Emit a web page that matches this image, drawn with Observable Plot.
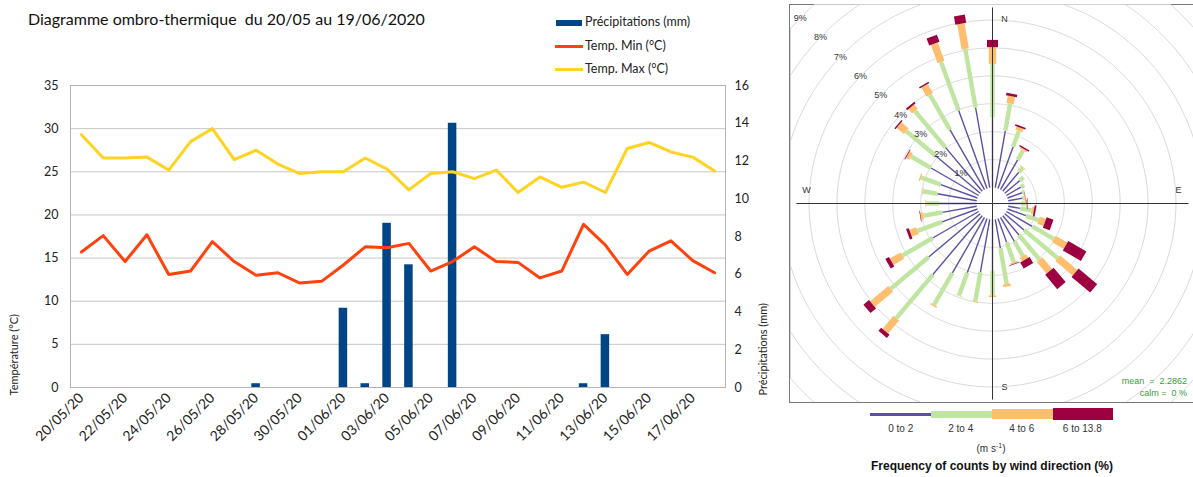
<!DOCTYPE html>
<html><head><meta charset="utf-8">
<script src="https://cdn.jsdelivr.net/npm/d3@7"></script>
<script src="https://cdn.jsdelivr.net/npm/@observablehq/plot@0.6"></script>
<style>
body{margin:0;background:#fff;}
#page{position:relative;width:1193px;height:477px;overflow:hidden;background:#fff;font-family:Lato,"Open Sans",sans-serif;color:#222}
.abs{position:absolute;white-space:nowrap}
.rl{font-family:"Liberation Sans",Arial,sans-serif;color:#333}
</style></head><body><div id="page">
<div class="abs" style="left:28px;top:9px;font-size:16px;color:#111">Diagramme ombro-thermique&nbsp; du 20/05 au 19/06/2020</div>
<div class="abs" style="left:556px;top:20px;width:26px;height:6px;background:#004586"></div>
<div class="abs" style="left:585px;top:14px;font-size:12.5px">Précipitations (mm)</div>
<div class="abs" style="left:555px;top:45px;width:28px;height:3px;background:#ff420e"></div>
<div class="abs" style="left:585px;top:38px;font-size:12.5px">Temp. Min (°C)</div>
<div class="abs" style="left:555px;top:68px;width:28px;height:3px;background:#ffd320"></div>
<div class="abs" style="left:585px;top:61px;font-size:12.5px">Temp. Max (°C)</div>
<div id="left" class="abs" style="left:0;top:0"></div>
<div class="abs" style="left:789px;top:4px;width:410px;height:397px;border:1px solid #777"></div>
<div id="rose" class="abs" style="left:790px;top:4px;width:404px;height:398px;overflow:hidden"></div>
<div class="abs rl" style="right:6px;top:376px;font-size:9px;color:#3a9c3a">mean&nbsp; = &nbsp;2.2862</div>
<div class="abs rl" style="right:6px;top:388px;font-size:9px;color:#3a9c3a">calm = &nbsp;0 %</div>
<div class="abs" style="left:870px;top:413px;width:61px;height:3px;background:#5e4fa2"></div>
<div class="abs" style="left:931px;top:411px;width:61px;height:7px;background:#bfe5a0"></div>
<div class="abs" style="left:992px;top:409px;width:61px;height:10px;background:#fdbf6f"></div>
<div class="abs" style="left:1053px;top:408px;width:60px;height:12px;background:#9e0142"></div>
<div id="leglab"></div>
<div class="abs rl" style="left:941px;top:442px;width:100px;text-align:center;font-size:10px">(m s<sup style="font-size:7px">-1</sup>)</div>
<div class="abs rl" style="left:842px;top:459px;width:300px;text-align:center;font-size:12px;font-weight:bold;color:#111">Frequency of counts by wind direction (%)</div>
</div>
<script>
// ---------- left chart data ----------
const dates = ["20/05/20","21/05/20","22/05/20","23/05/20","24/05/20","25/05/20","26/05/20","27/05/20","28/05/20","29/05/20",
  "30/05/20","31/05/20","01/06/20","02/06/20","03/06/20","04/06/20","05/06/20","06/06/20","07/06/20","08/06/20",
  "09/06/20","10/06/20","11/06/20","12/06/20","13/06/20","14/06/20","15/06/20","16/06/20","17/06/20","18/06/20"];
const precip = [0,0,0,0,0,0,0,0,0.2,0, 0,0,4.2,0.2,8.7,6.5,0,14.0,0,0, 0,0,0,0.2,2.8,0,0,0,0,0];
const tmin = [15.7,17.6,14.6,17.7,13.1,13.5,16.9,14.6,13.0,13.3, 12.1,12.3,14.2,16.3,16.2,16.7,13.5,14.6,16.3,14.6, 14.5,12.7,13.5,18.9,16.5,13.1,15.8,17.0,14.7,13.3];
const tmax = [29.3,26.6,26.6,26.7,25.2,28.5,30.0,26.4,27.5,25.9, 24.8,25.0,25.0,26.6,25.3,22.9,24.8,25.0,24.2,25.2, 22.6,24.4,23.2,23.8,22.6,27.7,28.4,27.3,26.7,25.1];
const tempTicks = [0,5,10,15,20,25,30,35];
const precipTicks = [0,2,4,6,8,10,12,14,16];

// ---------- wind rose data (% per speed class, by direction) ----------
const dirs = [0,10,20,30,40,50,60,70,80,90,100,110,120,130,140,150,160,170,180,190,200,210,220,230,240,250,260,270,280,290,300,310,320,330,340,350];
const ws0to2 = [2.52,2.08,1.59,1.23,0.89,0.70,0.60,0.55,0.50,0.45,0.44,0.70,1.07,0.90,0.90,1.00,0.90,1.05,1.83,1.92,2.07,2.30,2.75,2.41,1.90,1.35,1.25,1.35,1.43,1.40,1.97,2.06,2.05,2.48,2.97,2.92];
const ws2to4 = [1.91,0.98,0.60,0.39,0.21,0.18,0.14,0.11,0.08,0.17,0.41,0.48,0.89,1.58,1.15,0.60,0.76,1.30,0.89,1.08,0.86,1.32,2.04,1.78,1.26,0.94,0.70,0.45,0.52,0.75,0.83,1.40,1.70,1.44,1.85,2.13];
const ws4to6 = [0.60,0.27,0.13,0.06,0.03,0.00,0.00,0.00,0.04,0.04,0.08,0.24,0.49,0.81,0.55,0.15,0.06,0.10,0.06,0.02,0.02,0.05,0.61,0.85,0.44,0.26,0.09,0.03,0.03,0.05,0.13,0.34,0.20,0.38,0.70,0.92];
const ws6to14 = [0.26,0.09,0.06,0.05,0.00,0.00,0.00,0.00,0.01,0.02,0.06,0.26,0.75,0.87,0.67,0.25,0.02,0.00,0.00,0.00,0.00,0.00,0.15,0.26,0.15,0.10,0.02,0.00,0.00,0.00,0.03,0.05,0.07,0.05,0.27,0.30];
const speedClasses = ["0 to 2","2 to 4","4 to 6","6 to 13.8"];
const ringPct = [1,2,3,4,5,6,7,8,9];
const compass = [{dir:0,label:"N"},{dir:90,label:"E"},{dir:180,label:"S"},{dir:270,label:"W"}];

// ---------- left chart ----------
const K = 35/16;
const rows = dates.map((d,i)=>({date:d, p:precip[i], tmin:tmin[i], tmax:tmax[i]}));
const left = Plot.plot({
  width: 785, height: 477,
  marginLeft: 70, marginRight: 60, marginTop: 85, marginBottom: 90,
  style: {fontFamily: "Lato, 'Open Sans', sans-serif", fontSize: "12px", color: "#222", background: "transparent", overflow: "visible"},
  x: {type: "band", domain: dates, paddingInner: 0.61, paddingOuter: 0.305, round: false, axis: null},
  y: {domain: [0, 35], axis: null},
  marks: [
    Plot.gridY(tempTicks, {stroke: "#c6c6c6", strokeOpacity: 1}),
    Plot.barY(rows, {x: "date", y: d => d.p * K, fill: "#004586"}),
    Plot.line(rows, {x: "date", y: "tmin", stroke: "#ff420e", strokeWidth: 3}),
    Plot.line(rows, {x: "date", y: "tmax", stroke: "#ffd320", strokeWidth: 3}),
    Plot.frame({stroke: "#b3b3b3"}),
    Plot.axisY(tempTicks, {anchor: "left", tickSize: 0, tickPadding: 12, label: null, fontSize: 12.5}),
    Plot.axisY(precipTicks.map(v => v * K), {anchor: "right", tickSize: 0, tickPadding: 9, label: null, tickFormat: v => Math.round(v / K), fontSize: 12.5}),
    Plot.axisX(dates.filter((d, i) => i % 2 === 0), {anchor: "bottom", tickRotate: -45, tickSize: 0, tickPadding: 8, label: null, fontSize: 14}),
    Plot.text(["Température (°C)"], {frameAnchor: "bottom-left", dx: -53, dy: 8, rotate: -90, textAnchor: "start", fontSize: 11}),
    Plot.text(["Précipitations (mm)"], {frameAnchor: "bottom-right", dx: 41, dy: 8, rotate: -90, textAnchor: "start", fontSize: 11})
  ]
});
document.getElementById("left").appendChild(left);

// ---------- wind rose ----------
const PX = 27.9;            // px per 1 % (for projection fit)
const H = 16 / PX;          // calm hole radius in % units
const R = 199 / PX;         // half-height of panel in % units
const classArrays = [ws0to2, ws2to4, ws4to6, ws6to14];
const colors = ["#5e4fa2", "#bfe5a0", "#fdbf6f", "#9e0142"];
const widths = [1.4, 4.4, 7.4, 11];
const segs = [];
dirs.forEach((d, i) => {
  let cum = 0;
  classArrays.forEach((arr, k) => {
    const v = arr[i];
    if (v > 0) segs.push({dir: d, k, r1: cum, r2: cum + v});
    cum += v;
  });
});
const lon = d => 180 - d;
const rose = Plot.plot({
  width: 404, height: 398, margin: 0,
  style: {fontFamily: "'Liberation Sans', Arial, sans-serif", background: "transparent"},
  projection: {type: "azimuthal-equidistant", rotate: [0, -90], domain: d3.geoCircle().center([0, 90]).radius(R)()},
  marks: [
    Plot.geo(ringPct.map(k => d3.geoCircle().center([0, 90]).radius(H + k).precision(0.5)()), {fill: "none", stroke: "#d2d2d2", strokeWidth: 0.9}),
    ...[0, 1, 2, 3].map(k => Plot.link(segs.filter(s => s.k === k), {
      x1: s => lon(s.dir), x2: s => lon(s.dir),
      y1: s => 90 - (H + s.r1), y2: s => 90 - (H + s.r2),
      stroke: colors[k], strokeWidth: widths[k], strokeLinecap: "butt"
    })),
    Plot.link(compass, {x1: d => lon(d.dir), x2: d => lon(d.dir), y1: 90, y2: 90 - 196 / PX, stroke: "#333", strokeWidth: 1}),
    Plot.text(compass.filter(c => c.dir % 180 === 0), {x: d => lon(d.dir), y: 90 - 184 / PX, text: "label", dx: 12, fontSize: 9, fill: "#333"}),
    Plot.text(compass.filter(c => c.dir % 180 !== 0), {x: d => lon(d.dir), y: 90 - 186 / PX, text: "label", dy: -13, fontSize: 9, fill: "#333"}),
    Plot.text(ringPct, {x: lon(314), y: k => 90 - (H + k), text: k => `${k}%`, fontSize: 9, fill: "#333"})
  ]
});
document.getElementById("rose").appendChild(rose);

// legend labels for rose
const labX = [900.7, 960.7, 1021.7, 1082.3];
const ll = document.getElementById("leglab");
speedClasses.forEach((s, i) => {
  const el = document.createElement("div");
  el.className = "abs rl";
  el.style.cssText = `left:${labX[i] - 40}px;top:423px;width:80px;text-align:center;font-size:10px`;
  el.textContent = s;
  ll.appendChild(el);
});
</script>
</body></html>
